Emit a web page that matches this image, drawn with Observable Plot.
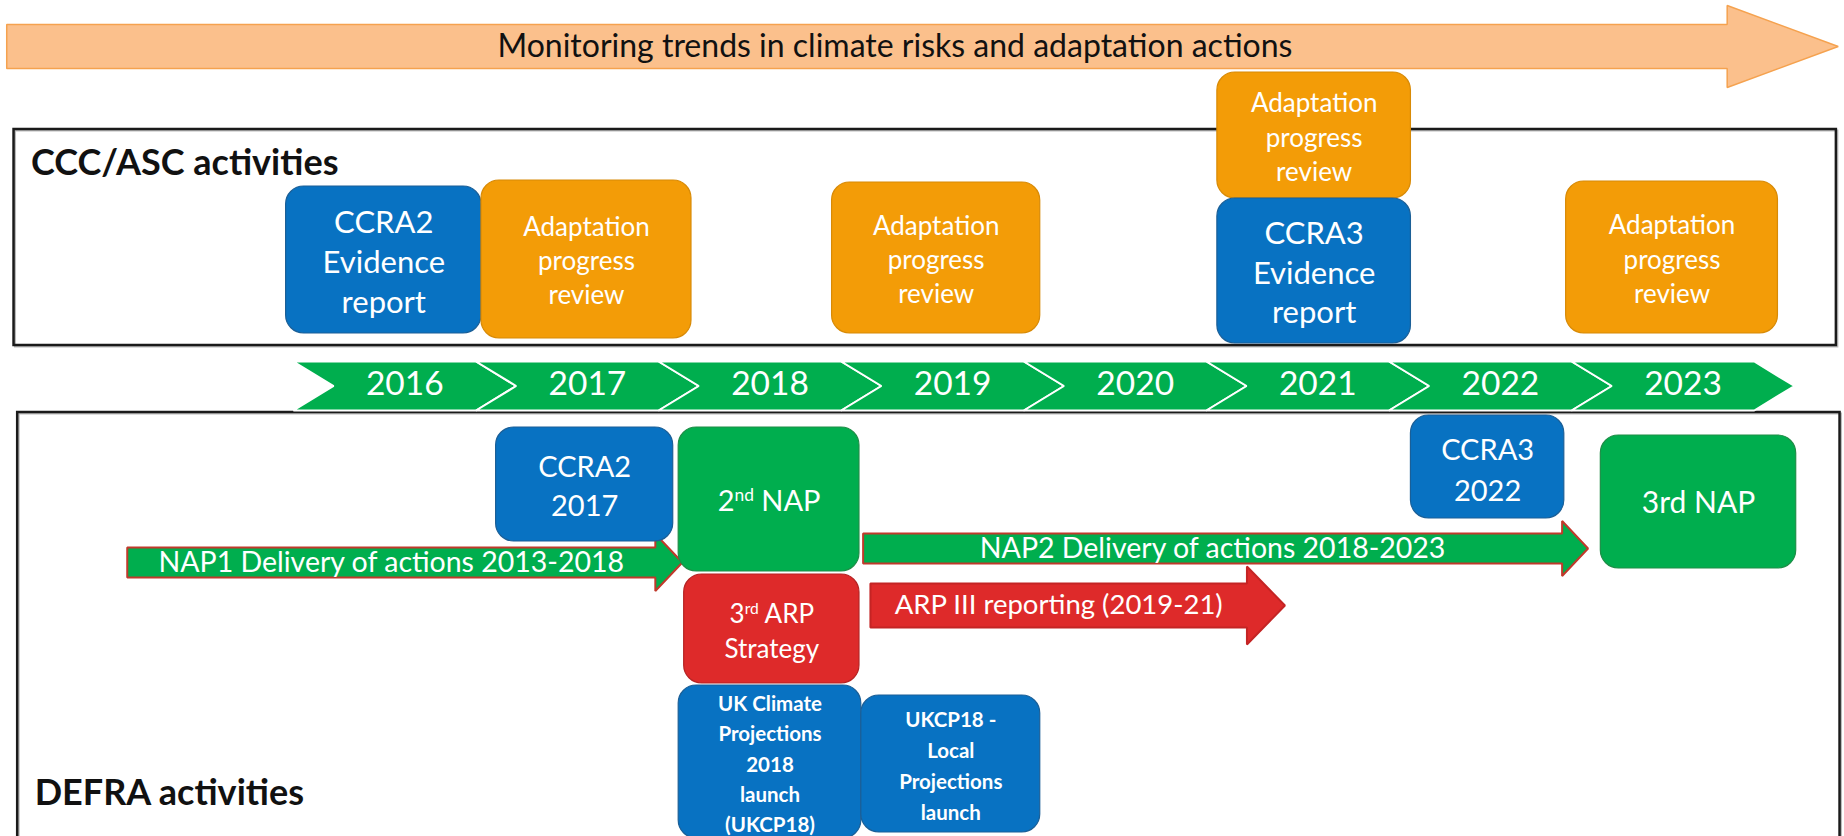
<!DOCTYPE html>
<html><head><meta charset="utf-8">
<script src="https://cdn.jsdelivr.net/npm/d3@7"></script>
<script src="https://cdn.jsdelivr.net/npm/@observablehq/plot@0.6"></script>
<style>
html,body{margin:0;padding:0;background:#fff;overflow:hidden}
#chart svg{display:block}
</style></head><body><div id="chart"></div>
<script>
// ---------------- data ----------------
const years = [2016, 2017, 2018, 2019, 2020, 2021, 2022, 2023];

// activity boxes (timing in years)
const boxLabels = [
  "CCRA2\nEvidence\nreport", "Adaptation\nprogress\nreview", "Adaptation\nprogress\nreview",
  "Adaptation\nprogress\nreview", "CCRA3\nEvidence\nreport", "Adaptation\nprogress\nreview",
  "CCRA2\n2017", "2nd NAP", "3rd ARP\nStrategy", "CCRA3\n2022", "3rd NAP",
  "UK Climate\nProjections\n2018\nlaunch\n(UKCP18)", "UKCP18 -\nLocal\nProjections\nlaunch"
];
const boxStart = [2015.85, 2016.92, 2018.84, 2020.95, 2020.95, 2022.86, 2017.00, 2018.00, 2018.03, 2022.01, 2023.05, 2018.00, 2019.00];
const boxEnd   = [2016.92, 2018.07, 2019.98, 2022.01, 2022.01, 2024.02, 2017.97, 2018.99, 2018.99, 2022.85, 2024.12, 2019.00, 2019.98];
const boxType  = ["risk", "review", "review", "review", "risk", "review", "risk", "plan", "strategy", "risk", "plan", "projections", "projections"];

// arrows (timing in years)
const arrowLabels = [
  "Monitoring trends in climate risks and adaptation actions",
  "NAP1 Delivery of actions 2013-2018",
  "NAP2 Delivery of actions 2018-2023",
  "ARP III reporting (2019-21)"
];
const arrowStart = [2014.32, 2014.98, 2019.01, 2019.05];
const arrowEnd   = [2024.35, 2018.02, 2022.98, 2021.32];
const arrowType  = ["monitoring", "plan", "plan", "strategy"];

// section frames
const frameLabels = ["CCC/ASC activities", "DEFRA activities"];
const frameStart = [2014.36, 2014.38];
const frameEnd   = [2024.34, 2024.36];

const supLabels = ["2nd NAP", "3rd ARP"];

// ---------------- layout / style ----------------
const W = 1844, H = 836;
const FONT = "Lato, 'Open Sans', sans-serif";
const colors = {
  risk: "#0872C2", review: "#F39C07", plan: "#00AE4E", strategy: "#DE2A2A",
  projections: "#0872C2", monitoring: "#FBC08C"
};
const strokes = {
  risk: "#1B5F97", review: "#D88A06", plan: "#1E8E47", strategy: "#B52323",
  projections: "#1B5F97", monitoring: "#F5A24F"
};
// vertical layout (row units, top = 0)
const boxTop    = [186, 180, 182, 72, 198, 181, 427, 427, 574, 415, 435, 685, 695];
const boxBottom = [333, 338, 333, 198, 343, 333, 541, 571, 683, 518, 568, 838, 832];
const boxFont   = [31, 26, 26, 26, 31, 26, 29, 29, 26, 29, 30, 20.5, 20.5];
const boxLead   = [40, 34, 34, 34.5, 39.5, 34.5, 39, 35, 35, 41, 35, 30.3, 31];
const boxWeight = [400, 400, 400, 400, 400, 400, 400, 400, 400, 400, 400, 700, 700];

const arrowY     = [46, 562, 548, 605];
const arrowShaft = [22, 15, 15, 22];
const arrowHead  = [41, 28.5, 27.5, 39];
const arrowHeadLen = [0.608, 0.148, 0.142, 0.208];
const arrowFont  = [32, 28.5, 28.5, 27.5];
const arrowLabelDx = [28, 0, 0, 0];
const arrowText  = ["#111", "#fff", "#fff", "#fff"];
const arrowStroke = ["#F5A24F", "#C0392B", "#C0392B", "#C42424"];

const frameTop = [129, 412], frameBottom = [345, 900], frameTitleY = [163, 793];

const chev = {top: 361, bottom: 410, d: 0.11};

// ---------------- tables ----------------
const boxes = boxLabels.map((label, i) => ({
  label, x1: boxStart[i], x2: boxEnd[i], y1: boxTop[i], y2: boxBottom[i],
  fill: colors[boxType[i]], stroke: strokes[boxType[i]],
  font: boxFont[i], lead: boxLead[i], weight: boxWeight[i]
}));

const arrowPts = [];
arrowLabels.forEach((label, i) => {
  const x0 = arrowStart[i], tip = arrowEnd[i], hb = tip - arrowHeadLen[i];
  const yc = arrowY[i], s = arrowShaft[i], h = arrowHead[i];
  [[x0, yc - s], [hb, yc - s], [hb, yc - h], [tip, yc], [hb, yc + h], [hb, yc + s], [x0, yc + s]]
    .forEach(([x, y]) => arrowPts.push({id: i, x, y}));
});

const chevPts = [];
years.forEach(Y => {
  const {top, bottom, d} = chev, mid = (top + bottom) / 2;
  [[Y - d, top], [Y + 1 - d, top], [Y + 1 + d, mid], [Y + 1 - d, bottom], [Y - d, bottom], [Y + d, mid]]
    .forEach(([x, y]) => chevPts.push({year: Y, x, y}));
});

const frames = frameLabels.map((label, i) => ({label, x1: frameStart[i], x2: frameEnd[i], y1: frameTop[i], y2: frameBottom[i], ty: frameTitleY[i]}));

// ---------------- marks ----------------
const marks = [];

// frames
marks.push(Plot.rect(frames, {x1: "x1", x2: "x2", y1: "y1", y2: "y2", fill: "none", stroke: "#bbb", strokeWidth: 2, dx: 1.5, dy: 1.5}));
marks.push(Plot.rect(frames, {x1: "x1", x2: "x2", y1: "y1", y2: "y2", fill: "none", stroke: "#1a1a1a", strokeWidth: 2.5}));
marks.push(Plot.text(frames, {x: "x1", y: "ty", text: "label", dx: 17, textAnchor: "start", fontSize: 36, fontWeight: 700, fontFamily: FONT, fill: "#111"}));

// arrows
arrowLabels.forEach((label, i) => {
  marks.push(Plot.line(arrowPts.filter(p => p.id === i), {
    x: "x", y: "y", curve: "linear-closed",
    fill: colors[arrowType[i]], stroke: arrowStroke[i], strokeWidth: i === 0 ? 1.5 : 2, strokeLinejoin: "miter"
  }));
  const mid = (arrowStart[i] + arrowEnd[i] - arrowHeadLen[i]) / 2;
  marks.push(Plot.text([{label, x: mid, y: arrowY[i]}], {
    x: "x", y: "y", text: "label", dx: arrowLabelDx[i], fontSize: arrowFont[i], fontFamily: FONT, fill: arrowText[i]
  }));
});

// year chevrons
marks.push(Plot.line(chevPts, {x: "x", y: "y", z: "year", curve: "linear-closed", fill: "#00AE4E", stroke: "#fff", strokeWidth: 2, strokeLinejoin: "miter"}));
marks.push(Plot.text(years, {x: d => d + 0.5, y: () => 384, text: d => String(d), fill: "#fff", fontSize: 33.5, fontFamily: FONT}));

// boxes
marks.push(Plot.rect(boxes, {x1: "x1", x2: "x2", y1: "y1", y2: "y2", fill: "fill", stroke: "stroke", strokeWidth: 1.2, rx: 18}));
boxes.forEach(b => {
  marks.push(Plot.text([b], {
    x: d => (d.x1 + d.x2) / 2, y: d => (d.y1 + d.y2) / 2, text: "label",
    fill: "#fff", fontSize: b.font, fontWeight: b.weight, fontFamily: FONT,
    lineHeight: b.lead / b.font, lineAnchor: "middle"
  }));
});

const chart = Plot.plot({
  width: W, height: H,
  margin: 0,
  x: {domain: [2016 - 313 / 182.6, 2016 + (W - 313) / 182.6], range: [0, W], axis: null},
  y: {domain: [0, H], range: [0, H], axis: null},
  color: {type: "identity"},
  style: {background: "#fff", fontFamily: FONT},
  marks
});
document.getElementById("chart").append(chart);

// superscript ordinals
const NS = "http://www.w3.org/2000/svg";
chart.querySelectorAll("text, tspan").forEach(el => {
  if (el.childElementCount) return;
  const t = el.textContent;
  if (!supLabels.includes(t)) return;
  const m = t.match(/^(\d)(nd|rd)( .*)$/);
  if (!m) return;
  el.textContent = "";
  const a = document.createElementNS(NS, "tspan"); a.textContent = m[1];
  const b = document.createElementNS(NS, "tspan"); b.textContent = m[2];
  b.setAttribute("baseline-shift", "super"); b.setAttribute("font-size", "0.6em");
  const c = document.createElementNS(NS, "tspan"); c.textContent = m[3];
  el.append(a, b, c);
});
</script>
</body></html>
